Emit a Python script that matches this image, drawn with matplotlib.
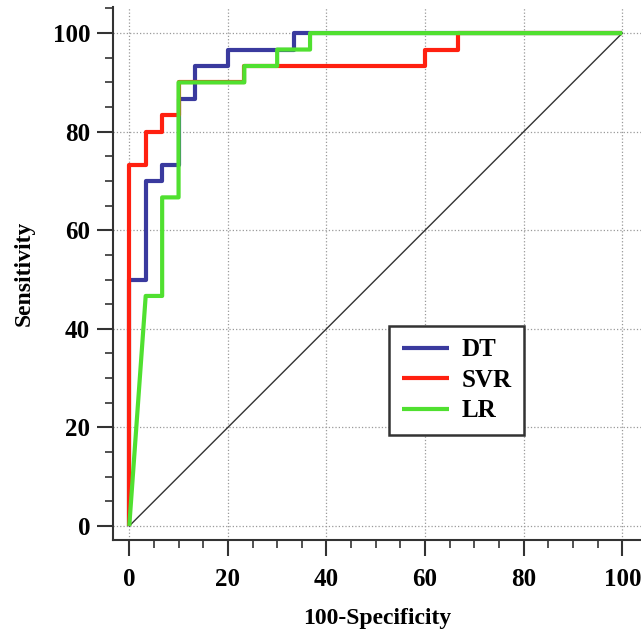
import matplotlib
matplotlib.use('agg')
import matplotlib.pyplot as plt
from matplotlib.ticker import MultipleLocator

# ROC points (100-specificity, sensitivity)
dt_fpr = [0, 0, 3.33, 3.33, 6.67, 6.67, 10, 10, 13.33, 13.33, 20, 20, 33.33, 33.33, 100]
dt_tpr = [0, 50, 50, 70, 70, 73.33, 73.33, 86.67, 86.67, 93.33, 93.33, 96.67, 96.67, 100, 100]

svr_fpr = [0, 0, 3.33, 3.33, 6.67, 6.67, 10, 10, 23.33, 23.33, 60, 60, 66.67, 66.67, 100]
svr_tpr = [0, 73.33, 73.33, 80, 80, 83.33, 83.33, 90, 90, 93.33, 93.33, 96.67, 96.67, 100, 100]

lr_fpr = [0, 3.33, 6.67, 6.67, 10, 10, 23.33, 23.33, 30, 30, 36.67, 36.67, 100]
lr_tpr = [0, 46.67, 46.67, 66.67, 66.67, 90, 90, 93.33, 93.33, 96.67, 96.67, 100, 100]

ref_line = [0, 100]

plt.rcParams['font.family'] = 'Liberation Serif'
plt.rcParams['font.weight'] = 'bold'

fig = plt.figure(figsize=(6.41, 6.33), dpi=100)
ax = fig.add_axes([113/641, 93/633, 528/641, 533/633])

ax.plot(ref_line, ref_line, color='#333333', lw=1.0)
ax.plot(dt_fpr, dt_tpr, color='#3a3a9e', lw=3, label='DT', solid_capstyle='butt')
ax.plot(svr_fpr, svr_tpr, color='#ff2010', lw=3, label='SVR', solid_capstyle='butt')
ax.plot(lr_fpr, lr_tpr, color='#50e030', lw=3, label='LR', solid_capstyle='butt')

ax.set_xlim(-3.3, 103.8)
ax.set_ylim(-2.85, 105.3)

ax.xaxis.set_major_locator(MultipleLocator(20))
ax.xaxis.set_minor_locator(MultipleLocator(5))
ax.yaxis.set_major_locator(MultipleLocator(20))
ax.yaxis.set_minor_locator(MultipleLocator(5))

ax.spines['top'].set_visible(False)
ax.spines['right'].set_visible(False)
for s in ['left', 'bottom']:
    ax.spines[s].set_linewidth(1.5)
    ax.spines[s].set_color('#333333')

ax.tick_params(which='major', direction='out', length=11.5, width=1.5, color='#333333',
               labelsize=18)
ax.tick_params(axis='x', which='major', pad=9)
ax.tick_params(axis='y', which='major', pad=5)
ax.tick_params(which='minor', direction='out', length=6, width=1.2, color='#333333')

ax.grid(True, which='major', linestyle=':', color='#999999', lw=0.9)
ax.set_axisbelow(True)

ax.set_xlabel('100-Specificity', fontsize=17, fontweight='bold', labelpad=12)
ax.set_ylabel('Sensitivity', fontsize=17, fontweight='bold', labelpad=13)

leg = ax.legend(loc='upper left', bbox_to_anchor=(52.7, 40.6), bbox_transform=ax.transData,
                fancybox=False, framealpha=1, edgecolor='#333333', fontsize=18,
                handlelength=1.9, borderpad=0.5, labelspacing=0.3, handletextpad=0.5,
                borderaxespad=0)
leg.get_frame().set_linewidth(1.8)

fig.savefig('out.png', dpi=100)
